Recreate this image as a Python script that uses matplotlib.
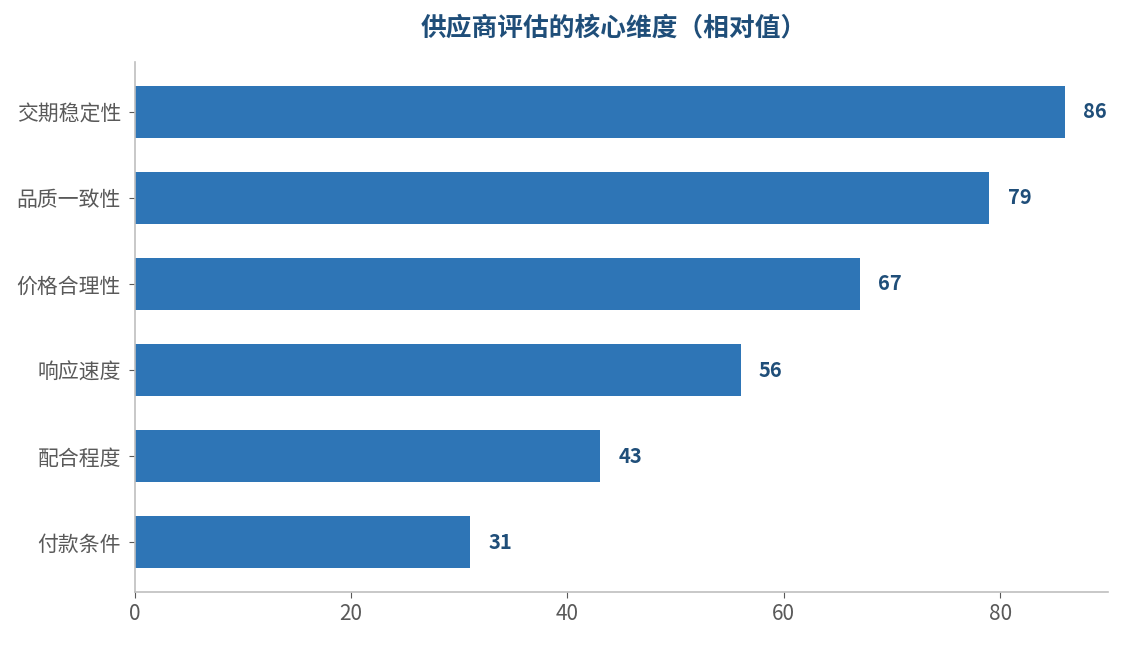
import matplotlib
matplotlib.use("Agg")
import matplotlib.pyplot as plt

plt.rcParams['font.family'] = ['Noto Sans CJK SC', 'DejaVu Sans']

CATEGORIES = ["付款条件", "配合程度", "响应速度", "价格合理性", "品质一致性", "交期稳定性"]
VALUES = [31, 43, 56, 67, 79, 86]
TITLE = "供应商评估的核心维度（相对值）"
XTICKS = [0, 20, 40, 60, 80]

BAR_COLOR = "#2E75B6"
LABEL_COLOR = "#1F4E79"
TICK_COLOR = "#595959"
SPINE_COLOR = "#BFBFBF"

fig = plt.figure(figsize=(11.24, 6.45), dpi=100)
ax = fig.add_axes([0.120, 0.082, 0.866, 0.822])

ypos = range(len(CATEGORIES))
bars = ax.barh(ypos, VALUES, height=0.6, color=BAR_COLOR)

for bar, v in zip(bars, VALUES):
    ax.text(bar.get_width() + 1.7, bar.get_y() + bar.get_height() / 2, str(v),
            va="center", ha="left", fontsize=14.5, fontweight="bold", color=LABEL_COLOR)

ax.set_yticks(list(ypos))
ax.set_yticklabels(CATEGORIES)
ax.set_xticks(XTICKS)
ax.set_xlim(0, 90)

ax.tick_params(axis="both", labelsize=15, labelcolor=TICK_COLOR, color=TICK_COLOR, length=4)
ax.tick_params(axis="y", pad=6)
for side in ("top", "right"):
    ax.spines[side].set_visible(False)
for side in ("left", "bottom"):
    ax.spines[side].set_color(SPINE_COLOR)
    ax.spines[side].set_linewidth(1.2)

fig.suptitle(TITLE, x=0.546, y=0.957, fontsize=18.5, fontweight="bold", color=LABEL_COLOR, va="center")

fig.savefig("out.png", dpi=100, facecolor="white")
